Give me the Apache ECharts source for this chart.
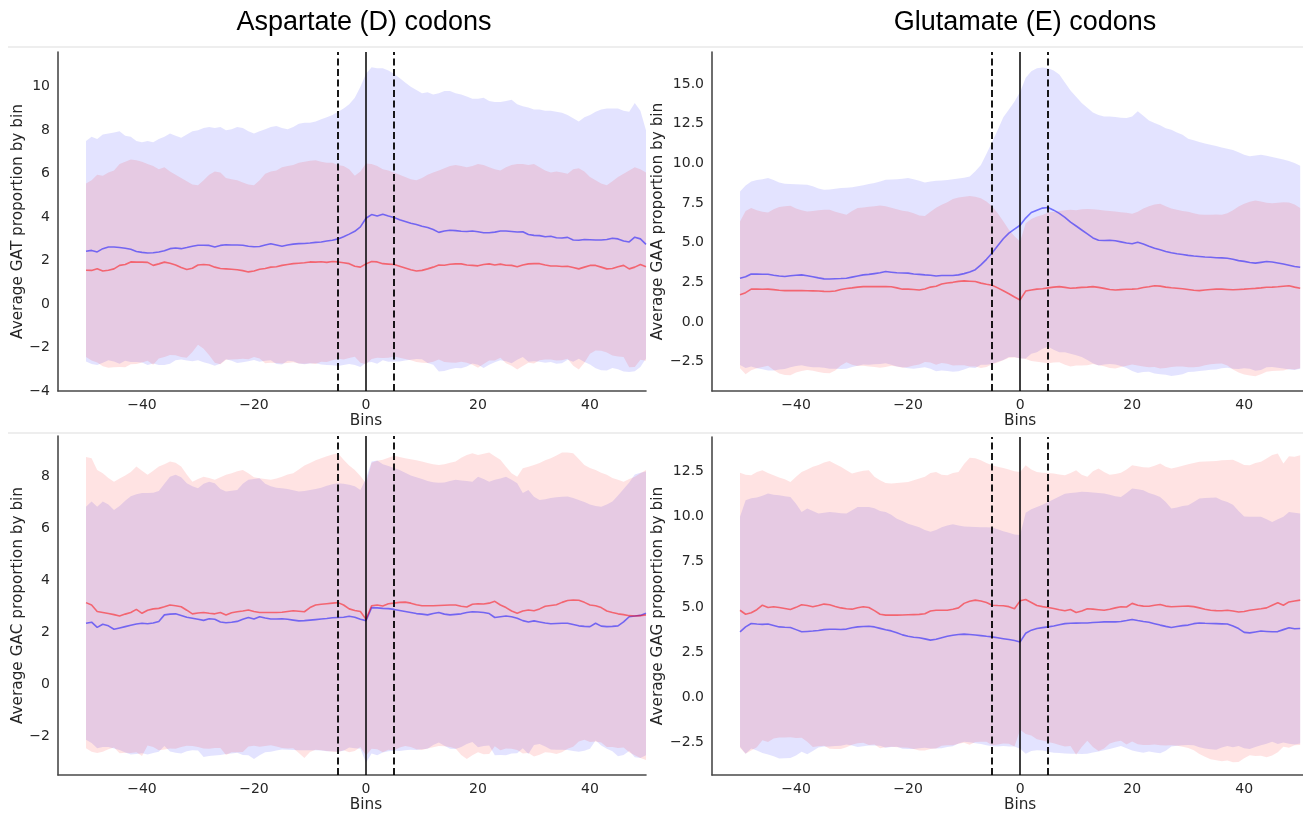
<!DOCTYPE html>
<html>
<head>
<meta charset="utf-8">
<script src="https://cdn.jsdelivr.net/npm/echarts@6/dist/echarts.min.js"></script>
<style>
  html, body { margin: 0; padding: 0; background: #ffffff; }
  #chart { width: 1303px; height: 814px; }
</style>
</head>
<body>
<div id="chart"></div>
<script>
// Bin offsets around the site (x values shared by all four panels)
const bins = [
  -50,-49,-48,-47,-46,-45,-44,-43,-42,-41,
  -40,-39,-38,-37,-36,-35,-34,-33,-32,-31,
  -30,-29,-28,-27,-26,-25,-24,-23,-22,-21,
  -20,-19,-18,-17,-16,-15,-14,-13,-12,-11,
  -10,-9,-8,-7,-6,-5,-4,-3,-2,-1,
  0,1,2,3,4,5,6,7,8,9,
  10,11,12,13,14,15,16,17,18,19,
  20,21,22,23,24,25,26,27,28,29,
  30,31,32,33,34,35,36,37,38,39,
  40,41,42,43,44,45,46,47,48,49,
  50
];

// Reference positions drawn as vertical rules
const dashedBins = [-5, 5];
const solidBins = [0];

// Column titles and axis captions
const columnTitles = ['Aspartate (D) codons', 'Glutamate (E) codons'];
const yAxisTitles = [
  'Average GAT proportion by bin',
  'Average GAA proportion by bin',
  'Average GAC proportion by bin',
  'Average GAG proportion by bin'
];
const xAxisTitle = 'Bins';

// Tick labels
const xTicks = [-40, -20, 0, 20, 40];
const gatTicks = [-4, -2, 0, 2, 4, 6, 8, 10];
const gaaTicks = [-2.5, 0, 2.5, 5, 7.5, 10, 12.5, 15];
const gacTicks = [-2, 0, 2, 4, 6, 8];
const gagTicks = [-2.5, 0, 2.5, 5, 7.5, 10, 12.5];

// ---- GAT ----
const gatBlueMean = [
  2.43,2.47,2.40,2.55,2.63,2.63,2.60,2.57,2.52,2.42,
  2.38,2.35,2.36,2.40,2.45,2.55,2.58,2.55,2.60,2.66,
  2.71,2.71,2.70,2.63,2.70,2.73,2.72,2.72,2.71,2.66,
  2.64,2.65,2.72,2.78,2.72,2.66,2.72,2.76,2.78,2.79,
  2.81,2.84,2.86,2.90,2.94,3.00,3.10,3.22,3.35,3.55,
  3.95,4.12,4.05,4.13,4.05,3.98,3.88,3.80,3.72,3.66,
  3.58,3.52,3.43,3.30,3.36,3.40,3.38,3.35,3.34,3.36,
  3.33,3.28,3.28,3.31,3.36,3.36,3.34,3.32,3.33,3.20,
  3.16,3.15,3.10,3.12,3.05,3.04,3.07,2.95,2.94,2.97,
  2.96,2.95,2.95,2.97,3.03,3.00,2.90,2.86,3.08,3.00,
  2.75
];
const gatBlueUpper = [
  7.5,7.7,7.6,7.8,7.85,7.9,7.95,7.75,7.7,7.5,
  7.45,7.5,7.45,7.6,7.7,7.85,7.75,7.65,7.8,7.95,
  8.0,8.1,8.15,8.1,8.15,8.0,8.05,8.15,8.1,7.95,
  7.85,7.95,8.05,8.15,8.2,8.1,8.05,8.15,8.3,8.35,
  8.35,8.4,8.5,8.6,8.7,8.85,9.0,9.2,9.5,10.0,
  10.6,10.9,10.85,10.85,10.75,10.6,10.4,10.2,10.0,9.85,
  9.7,9.75,9.65,9.7,9.8,9.8,9.7,9.65,9.55,9.45,
  9.45,9.5,9.35,9.3,9.3,9.35,9.4,9.2,9.1,9.05,
  8.95,8.95,8.9,8.9,8.85,8.8,8.7,8.55,8.4,8.6,
  8.7,8.85,8.95,9.0,9.0,9.0,8.9,8.85,9.25,8.9,
  8.0
];
const gatRedMean = [
  1.56,1.55,1.63,1.52,1.56,1.62,1.78,1.82,1.94,1.93,
  1.93,1.92,1.78,1.85,1.93,1.88,1.80,1.68,1.59,1.65,
  1.80,1.82,1.80,1.70,1.64,1.62,1.60,1.58,1.54,1.48,
  1.52,1.60,1.64,1.70,1.72,1.78,1.82,1.86,1.88,1.90,
  1.94,1.93,1.95,1.92,1.96,1.94,1.90,1.86,1.74,1.70,
  1.85,1.96,1.94,1.86,1.84,1.82,1.74,1.66,1.58,1.52,
  1.55,1.62,1.70,1.80,1.79,1.83,1.85,1.85,1.80,1.78,
  1.76,1.82,1.85,1.80,1.84,1.79,1.78,1.72,1.80,1.85,
  1.86,1.86,1.80,1.75,1.75,1.73,1.74,1.68,1.62,1.70,
  1.78,1.78,1.70,1.62,1.64,1.72,1.78,1.62,1.70,1.82,
  1.72
];
const gatRedUpper = [
  5.55,5.7,5.95,5.9,6.05,6.15,6.45,6.55,6.65,6.62,
  6.55,6.45,6.35,6.2,6.3,6.1,5.95,5.8,5.65,5.5,
  5.47,5.7,5.95,6.1,6.05,5.8,5.75,5.7,5.6,5.5,
  5.47,5.7,6.0,6.1,6.15,6.3,6.35,6.4,6.5,6.55,
  6.6,6.62,6.55,6.5,6.5,6.4,6.35,6.2,5.9,6.1,
  6.47,6.45,6.35,6.2,6.15,6.05,5.95,5.85,5.75,5.7,
  5.8,5.95,6.05,6.15,6.25,6.35,6.4,6.35,6.3,6.35,
  6.45,6.4,6.3,6.2,6.15,6.3,6.4,6.45,6.45,6.4,
  6.45,6.3,6.15,6.05,6.1,6.05,6.0,6.2,6.25,6.1,
  5.85,5.7,5.55,5.47,5.65,5.85,6.0,6.15,6.3,6.2,
  6.05
];

// ---- GAA ----
const gaaBlueMean = [
  2.76,2.85,3.03,3.02,3.01,3.01,2.95,2.90,2.87,2.92,
  2.95,2.97,2.92,2.85,2.78,2.72,2.71,2.73,2.74,2.76,
  2.83,2.90,2.97,3.00,3.05,3.10,3.18,3.14,3.10,3.09,
  3.08,3.03,3.00,2.97,2.95,2.90,2.93,2.93,2.93,2.97,
  3.05,3.15,3.30,3.60,3.95,4.35,4.80,5.25,5.60,5.85,
  6.10,6.55,6.90,7.05,7.18,7.22,7.05,6.85,6.60,6.30,
  6.05,5.80,5.55,5.30,5.15,5.14,5.15,5.12,5.05,4.98,
  4.93,5.03,4.92,4.78,4.65,4.55,4.45,4.36,4.30,4.25,
  4.20,4.16,4.13,4.10,4.08,4.05,4.04,4.02,3.95,3.87,
  3.82,3.75,3.71,3.76,3.81,3.78,3.72,3.66,3.58,3.50,
  3.45
];
const gaaBlueUpper = [
  8.23,8.6,8.86,8.95,9.0,9.07,8.95,8.8,8.71,8.7,
  8.68,8.66,8.65,8.55,8.42,8.33,8.36,8.4,8.44,8.46,
  8.5,8.56,8.62,8.7,8.76,8.85,8.96,8.98,9.0,9.03,
  9.07,9.0,8.9,8.8,8.85,8.9,8.92,8.95,9.0,9.05,
  9.1,9.17,9.5,9.9,10.6,11.35,12.1,12.9,13.4,13.9,
  14.5,15.4,15.8,16.0,16.05,16.0,15.85,15.6,15.1,14.6,
  14.2,13.8,13.5,13.2,13.05,12.96,12.95,12.92,12.88,12.86,
  12.95,13.28,13.0,12.7,12.55,12.4,12.22,12.12,11.95,11.8,
  11.55,11.45,11.35,11.25,11.17,11.1,11.0,10.92,10.85,10.7,
  10.55,10.45,10.5,10.54,10.48,10.4,10.33,10.25,10.15,10.02,
  9.85
];
const gaaRedMean = [
  1.71,1.85,2.07,2.07,2.06,2.07,2.04,2.00,1.98,1.98,
  1.98,1.98,1.97,1.96,1.95,1.93,1.92,1.95,2.05,2.11,
  2.15,2.20,2.23,2.23,2.23,2.23,2.23,2.22,2.15,2.07,
  2.07,2.05,2.02,2.08,2.20,2.25,2.40,2.46,2.50,2.56,
  2.59,2.57,2.55,2.45,2.38,2.32,2.15,1.97,1.78,1.58,
  1.39,1.95,2.02,2.07,2.10,2.15,2.20,2.23,2.18,2.13,
  2.15,2.18,2.20,2.23,2.18,2.12,2.05,2.02,2.04,2.06,
  2.07,2.10,2.17,2.22,2.28,2.26,2.20,2.16,2.13,2.10,
  2.05,2.00,1.98,2.02,2.05,2.07,2.07,2.05,2.03,2.05,
  2.07,2.10,2.12,2.15,2.19,2.20,2.22,2.25,2.28,2.20,
  2.13
];
const gaaRedUpper = [
  6.34,7.0,7.18,7.05,6.95,6.9,7.1,7.25,7.3,7.32,
  7.15,7.05,6.97,7.0,7.05,7.08,7.07,6.95,6.85,6.76,
  7.0,7.18,7.22,7.27,7.3,7.34,7.3,7.2,7.1,7.02,
  6.97,6.85,6.72,6.68,6.95,7.2,7.39,7.55,7.75,7.85,
  7.9,7.95,7.9,7.8,7.6,7.3,6.86,6.35,5.81,5.4,
  5.07,6.23,6.5,6.65,6.75,6.9,6.95,7.0,7.05,7.07,
  7.05,7.1,7.12,7.11,7.08,7.03,7.0,6.97,6.92,6.88,
  6.82,6.95,7.15,7.3,7.4,7.45,7.3,7.15,7.07,7.0,
  6.95,6.85,6.78,6.76,6.76,6.77,6.76,6.85,7.05,7.28,
  7.45,7.58,7.66,7.6,7.52,7.49,7.52,7.55,7.53,7.4,
  7.18
];

// ---- GAC ----
const gacBlueMean = [
  2.35,2.39,2.19,2.31,2.25,2.12,2.17,2.22,2.27,2.32,
  2.35,2.33,2.36,2.42,2.67,2.70,2.71,2.65,2.58,2.54,
  2.50,2.46,2.52,2.50,2.40,2.37,2.39,2.42,2.50,2.57,
  2.51,2.60,2.55,2.51,2.51,2.52,2.50,2.47,2.44,2.45,
  2.47,2.49,2.51,2.53,2.56,2.57,2.58,2.62,2.58,2.50,
  2.45,2.95,2.94,2.92,2.91,2.88,2.84,2.80,2.76,2.72,
  2.70,2.67,2.72,2.76,2.70,2.67,2.69,2.71,2.76,2.79,
  2.78,2.76,2.72,2.57,2.60,2.63,2.60,2.54,2.45,2.40,
  2.44,2.40,2.36,2.33,2.34,2.35,2.35,2.30,2.25,2.23,
  2.22,2.35,2.24,2.22,2.23,2.25,2.40,2.60,2.63,2.65,
  2.73
];
const gacBlueUpper = [
  6.82,7.02,6.82,7.02,6.9,6.69,6.85,7.05,7.22,7.3,
  7.34,7.34,7.35,7.42,7.7,7.97,8.04,7.95,7.72,7.6,
  7.53,7.7,7.78,7.72,7.5,7.4,7.43,7.46,7.7,7.85,
  7.88,7.91,7.7,7.6,7.55,7.53,7.5,7.45,7.4,7.42,
  7.46,7.5,7.55,7.62,7.68,7.72,7.7,7.66,7.6,7.46,
  7.9,8.55,8.59,8.45,8.38,8.3,8.23,8.12,8.02,7.95,
  7.88,7.8,7.76,7.74,7.75,7.8,7.85,7.82,7.8,7.78,
  7.97,7.88,7.78,7.85,7.9,7.97,7.85,7.72,7.34,7.46,
  7.2,7.08,7.1,7.15,7.18,7.2,7.21,7.15,7.08,7.0,
  6.9,6.85,6.82,6.9,7.02,7.25,7.5,7.75,8.05,8.12,
  8.17
];
const gacRedMean = [
  3.14,3.05,2.80,2.76,2.72,2.68,2.63,2.70,2.76,2.88,
  2.73,2.85,2.90,2.92,2.98,3.05,3.02,2.98,2.85,2.71,
  2.74,2.76,2.73,2.71,2.76,2.67,2.75,2.79,2.82,2.86,
  2.80,2.76,2.76,2.76,2.76,2.77,2.80,2.83,2.81,2.79,
  2.95,3.05,3.08,3.10,3.12,3.14,3.05,2.90,2.84,2.80,
  2.50,3.02,3.05,3.01,3.10,3.12,3.15,3.16,3.12,3.06,
  3.02,3.02,3.02,3.03,3.04,3.05,3.05,3.00,2.97,3.08,
  3.10,3.09,3.12,3.19,3.05,2.95,2.82,2.73,2.82,2.86,
  2.83,2.90,3.00,3.03,3.06,3.15,3.22,3.24,3.23,3.15,
  3.05,3.02,2.95,2.82,2.76,2.71,2.68,2.64,2.63,2.64,
  2.67
];
const gacRedUpper = [
  8.72,8.68,8.23,8.1,7.92,7.78,7.9,8.02,8.15,8.36,
  8.2,8.04,8.2,8.36,8.45,8.55,8.5,8.36,8.05,7.78,
  7.88,7.97,7.92,7.85,7.95,8.04,8.1,8.18,8.23,8.1,
  7.95,7.91,7.88,7.85,7.9,7.97,8.05,8.1,8.25,8.4,
  8.49,8.6,8.68,8.75,8.82,8.87,8.62,8.4,8.23,8.0,
  7.72,8.5,8.58,8.62,8.7,8.77,8.72,8.68,8.64,8.6,
  8.55,8.49,8.45,8.42,8.45,8.5,8.55,8.7,8.8,8.87,
  8.8,8.85,8.9,8.75,8.62,8.35,8.1,7.97,8.29,8.35,
  8.42,8.49,8.6,8.68,8.78,8.9,8.9,8.87,8.65,8.42,
  8.3,8.23,8.12,8.04,7.92,7.85,7.78,7.88,7.97,8.1,
  8.23
];

// ---- GAG ----
const gagBlueMean = [
  3.63,3.90,4.09,4.06,4.04,4.06,3.98,3.90,3.88,3.87,
  3.75,3.63,3.65,3.67,3.70,3.75,3.77,3.77,3.76,3.78,
  3.85,3.90,3.92,3.94,3.90,3.82,3.74,3.68,3.58,3.46,
  3.38,3.33,3.30,3.24,3.17,3.22,3.30,3.38,3.44,3.48,
  3.50,3.48,3.45,3.42,3.38,3.35,3.30,3.25,3.20,3.15,
  3.07,3.55,3.72,3.81,3.86,3.90,3.95,4.02,4.08,4.10,
  4.11,4.12,4.12,4.14,4.16,4.18,4.18,4.18,4.20,4.25,
  4.31,4.25,4.20,4.16,4.08,4.00,3.93,3.87,3.92,3.97,
  4.00,4.08,4.12,4.10,4.09,4.08,4.07,4.06,3.95,3.81,
  3.60,3.57,3.62,3.67,3.65,3.63,3.64,3.75,3.85,3.80,
  3.81
];
const gagBlueUpper = [
  9.98,10.9,11.0,11.05,11.15,11.27,11.2,11.17,11.12,11.08,
  10.7,10.25,10.44,10.3,10.16,10.2,10.25,10.22,10.18,10.16,
  10.35,10.53,10.53,10.53,10.45,10.3,10.25,10.1,9.88,9.75,
  9.6,9.5,9.4,9.25,9.15,9.25,9.4,9.5,9.57,9.5,
  9.45,9.43,9.42,9.41,9.4,9.39,9.3,9.18,9.1,9.0,
  8.97,10.2,10.4,10.53,10.65,10.8,10.95,11.1,11.25,11.3,
  11.33,11.36,11.35,11.32,11.3,11.27,11.2,11.12,11.08,11.3,
  11.54,11.5,11.45,11.3,11.2,11.08,10.8,10.44,10.5,10.58,
  10.62,10.8,10.99,11.02,11.04,11.05,10.9,10.8,10.65,10.3,
  10.0,9.98,9.98,9.98,9.85,9.7,9.85,9.98,10.25,10.2,
  10.16
];
const gagRedMean = [
  4.82,4.60,4.68,4.85,5.10,4.97,5.01,4.97,4.92,4.86,
  4.98,5.12,5.08,5.01,5.08,5.16,5.12,5.03,4.95,4.90,
  4.88,4.96,5.01,4.97,4.80,4.60,4.55,4.55,4.55,4.56,
  4.57,4.58,4.59,4.63,4.78,4.82,4.82,4.82,4.88,4.95,
  5.20,5.32,5.38,5.33,5.25,5.10,5.08,5.07,5.02,4.90,
  5.34,5.41,5.25,5.08,5.02,4.97,4.92,4.85,4.79,4.86,
  4.70,4.78,4.90,4.88,4.85,4.82,4.88,4.95,5.01,5.00,
  5.20,5.10,5.05,5.04,5.10,5.14,5.05,5.01,5.03,5.04,
  5.05,5.02,4.95,4.88,4.82,4.80,4.79,4.82,4.78,4.72,
  4.75,4.82,4.86,4.90,4.95,5.10,5.23,5.10,5.28,5.33,
  5.38
];
const gagRedUpper = [
  12.41,12.3,12.28,12.45,12.56,12.4,12.28,12.15,12.05,11.91,
  12.2,12.46,12.6,12.75,12.85,12.98,13.07,12.9,12.74,12.55,
  12.37,12.45,12.52,12.56,12.2,12.0,11.85,11.82,11.85,11.88,
  11.91,12.0,12.1,12.19,12.4,12.46,12.3,12.28,12.4,12.46,
  12.9,13.25,13.22,13.1,12.95,12.83,12.75,12.68,12.6,12.5,
  12.46,12.83,12.6,12.46,12.42,12.4,12.37,12.32,12.28,12.4,
  12.56,12.3,12.19,12.5,12.65,12.45,12.3,12.35,12.41,12.6,
  12.83,12.78,12.72,12.7,12.8,12.92,12.75,12.65,12.72,12.8,
  12.89,12.95,13.02,13.03,13.05,13.07,13.1,13.12,13.14,13.0,
  12.85,12.83,12.95,13.02,13.2,13.4,13.48,12.92,13.33,13.3,
  13.38
];

// ---------------------------------------------------------------
// Panel geometry and axis extents (drawing setup, not data)
const panels = [
  { grid: { left: 58,  top: 52,  width: 588, height: 339 }, x: [-55, 50],   y: [-4, 11.6],     ticks: gatTicks, dec: 0,
    title: yAxisTitles[0], nameGap: 32, blue: [gatBlueMean, gatBlueUpper], red: [gatRedMean, gatRedUpper] },
  { grid: { left: 712, top: 52,  width: 591, height: 339 }, x: [-55, 50.5], y: [-4.35, 17.02], ticks: gaaTicks, dec: 1,
    title: yAxisTitles[1], nameGap: 46, blue: [gaaBlueMean, gaaBlueUpper], red: [gaaRedMean, gaaRedUpper] },
  { grid: { left: 58,  top: 436, width: 588, height: 339 }, x: [-55, 50],   y: [-3.47, 9.53],  ticks: gacTicks, dec: 0,
    title: yAxisTitles[2], nameGap: 32, blue: [gacBlueMean, gacBlueUpper], red: [gacRedMean, gacRedUpper] },
  { grid: { left: 712, top: 437, width: 591, height: 338 }, x: [-55, 50.5], y: [-4.28, 14.39], ticks: gagTicks, dec: 1,
    title: yAxisTitles[3], nameGap: 46, blue: [gagBlueMean, gagBlueUpper], red: [gagRedMean, gagRedUpper] }
];

const INK = '#262626';
const SPINE = '#4a4a4a';
const FONT = 'DejaVu Sans';
const BLUE_LINE = 'rgba(0,0,255,0.5)';
const RED_LINE = 'rgba(255,0,0,0.5)';
const BLUE_FILL = 'rgba(0,0,255,0.11)';
const RED_FILL = 'rgba(255,0,0,0.11)';

const fmtNum = (v, dec) => (v < 0 ? '\u2212' : '') + Math.abs(v).toFixed(dec);

const grids = [], xAxes = [], yAxes = [], series = [];

// Shaded band = mean ± spread, drawn as one polygon through the axis scales
function bandSeries(idx, mean, upper, fill) {
  const lower = mean.map((m, i) => m - (upper[i] - m));
  return {
    type: 'custom', xAxisIndex: idx, yAxisIndex: idx, silent: true, z: 2, animation: false, clip: true,
    data: bins.map((b, i) => [b, lower[i], upper[i]]),
    encode: { x: 0, y: [1, 2] },
    renderItem: (params, api) => {
      if (params.dataIndex !== 0) return null;
      const pts = [];
      for (let i = 0; i < bins.length; i++) pts.push(api.coord([bins[i], upper[i]]));
      for (let i = bins.length - 1; i >= 0; i--) pts.push(api.coord([bins[i], lower[i]]));
      return { type: 'polygon', shape: { points: pts }, style: { fill: fill, stroke: null } };
    }
  };
}

panels.forEach((p, idx) => {
  grids.push(Object.assign({ containLabel: false }, p.grid));
  xAxes.push({
    type: 'value', gridIndex: idx, min: p.x[0], max: p.x[1],
    axisLine: { show: true, onZero: false, lineStyle: { color: SPINE, width: 1.6 } },
    axisTick: { show: false },
    splitLine: { show: false },
    axisLabel: { customValues: xTicks, formatter: v => fmtNum(v, 0), color: INK, fontSize: 14, fontFamily: FONT, margin: 7 }
  });
  yAxes.push({
    type: 'value', gridIndex: idx, min: p.y[0], max: p.y[1],
    axisLine: { show: true, onZero: false, lineStyle: { color: SPINE, width: 1.6 } },
    axisTick: { show: false },
    splitLine: { show: false },
    axisLabel: { customValues: p.ticks, formatter: v => fmtNum(v, p.dec), color: INK, fontSize: 14, fontFamily: FONT, margin: 8 },
    name: p.title, nameLocation: 'middle', nameGap: p.nameGap,
    nameTextStyle: { color: INK, fontSize: 15.3, fontFamily: FONT }
  });

  series.push(bandSeries(idx, p.blue[0], p.blue[1], BLUE_FILL));
  series.push(bandSeries(idx, p.red[0], p.red[1], RED_FILL));

  series.push({
    type: 'line', xAxisIndex: idx, yAxisIndex: idx, symbol: 'none', silent: true, z: 3, animation: false,
    data: bins.map((b, i) => [b, p.blue[0][i]]),
    lineStyle: { color: BLUE_LINE, width: 1.6 }
  });
  series.push({
    type: 'line', xAxisIndex: idx, yAxisIndex: idx, symbol: 'none', silent: true, z: 3, animation: false,
    data: bins.map((b, i) => [b, p.red[0][i]]),
    lineStyle: { color: RED_LINE, width: 1.6 },
    markLine: {
      silent: true, symbol: ['none', 'none'], label: { show: false }, animation: false,
      data: [
        ...dashedBins.map(v => ({ xAxis: v, lineStyle: { color: '#000', width: 1.8, type: [7, 3.5] } })),
        ...solidBins.map(v => ({ xAxis: v, lineStyle: { color: '#000', width: 1.5, type: 'solid' } }))
      ]
    }
  });
});

const chart = echarts.init(document.getElementById('chart'), null, { renderer: 'canvas' });

const frameLines = [47, 433].map(y => ({
  type: 'line', shape: { x1: 8, y1: y, x2: 1303, y2: y },
  style: { stroke: '#eeeeee', lineWidth: 2 }, silent: true, z: 0
}));

chart.setOption({
  backgroundColor: '#ffffff',
  animation: false,
  grid: grids,
  xAxis: xAxes,
  yAxis: yAxes,
  series: series,
  graphic: frameLines
});

// Column titles above each column and the "Bins" caption under the 0 tick
const extra = [];
[0, 1].forEach(c => {
  const g = panels[c].grid;
  extra.push({
    type: 'text', x: c === 0 ? 364 : 1025, y: 23, silent: true,
    style: { text: columnTitles[c], fill: '#000', font: '27px "Liberation Sans"', textAlign: 'center', textVerticalAlign: 'middle' }
  });
});
panels.forEach((p, idx) => {
  const pt = chart.convertToPixel({ gridIndex: idx }, [0, p.y[0]]);
  extra.push({
    type: 'text', x: pt[0], y: pt[1] + 30, silent: true,
    style: { text: xAxisTitle, fill: INK, font: '15.3px "DejaVu Sans"', textAlign: 'center', textVerticalAlign: 'middle' }
  });
});
chart.setOption({ graphic: frameLines.concat(extra) });
</script>
</body>
</html>
